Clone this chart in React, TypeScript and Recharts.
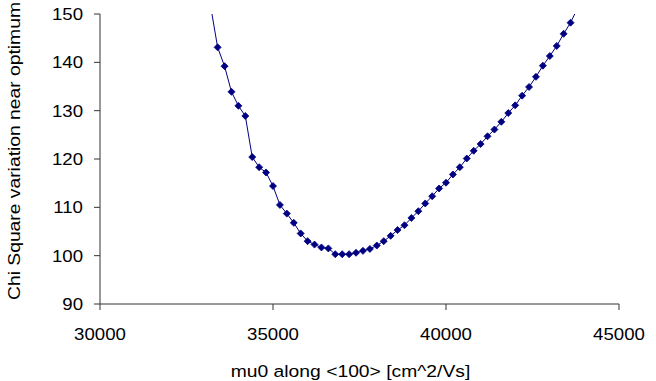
import React from "react";
import { Label, Line, LineChart, XAxis, YAxis } from "recharts";

// mu0 along <100>, step 200 (first and last points lie just above the axis max)
const MU0 = [
  33200, 33400, 33600, 33800, 34000, 34200, 34400, 34600, 34800, 35000, 35200, 35400, 35600, 35800,
  36000, 36200, 36400, 36600, 36800, 37000, 37200, 37400, 37600, 37800, 38000, 38200, 38400, 38600,
  38800, 39000, 39200, 39400, 39600, 39800, 40000, 40200, 40400, 40600, 40800, 41000, 41200, 41400,
  41600, 41800, 42000, 42200, 42400, 42600, 42800, 43000, 43200, 43400, 43600, 43800,
];

const CHI_SQUARE = [
  151.5, 143.1, 139.2, 133.9, 131.0, 128.9, 120.4, 118.3, 117.2, 114.4, 110.5, 108.7, 106.8, 104.6,
  103.0, 102.3, 101.7, 101.5, 100.3, 100.3, 100.3, 100.6, 101.0, 101.4, 102.1, 103.0, 104.1, 105.3,
  106.3, 107.8, 109.2, 110.8, 112.3, 113.9, 115.1, 116.8, 118.3, 120.1, 121.7, 123.1, 124.7, 126.1,
  127.7, 129.5, 131.1, 133.1, 134.9, 137.0, 139.3, 141.3, 143.4, 145.9, 148.2, 151.2,
];

const X_TICKS = [30000, 35000, 40000, 45000];
const Y_TICKS = [90, 100, 110, 120, 130, 140, 150];

const X_TITLE = "mu0 along <100> [cm^2/Vs]";
const Y_TITLE = "Chi Square variation near optimum";

const NAVY = "#000080";
const AXIS = "#333333";
const FONT = '"Liberation Sans", Arial, sans-serif';
const FONT_SIZE = 16.5;
// the original text is a bit wider than plain Arial
const STRETCH = 1.13;
const TITLE_STRETCH = 1.17;

const data = MU0.map((mu, i) => ({ mu, chi: CHI_SQUARE[i] }));

function Diamond(props: any) {
  const { cx, cy, payload } = props;
  if (cx == null || cy == null || payload.chi > 150) return null;
  const r = 3.5;
  return (
    <polygon
      key={`d-${payload.mu}`}
      points={`${cx},${cy - r} ${cx + r},${cy} ${cx},${cy + r} ${cx - r},${cy}`}
      fill={NAVY}
      stroke={NAVY}
      strokeWidth={0.8}
    />
  );
}

function StretchedText({ x, y, anchor, dy, rotate = 0, stretch = STRETCH, children }: any) {
  return (
    <g transform={`translate(${x},${y}) rotate(${rotate}) scale(${stretch},1)`}>
      <text x={0} y={0} dy={dy} textAnchor={anchor} fontSize={FONT_SIZE} fontFamily={FONT} fill="#000">
        {children}
      </text>
    </g>
  );
}

function XTick(props: any) {
  const { x, y, payload } = props;
  return (
    <StretchedText x={x} y={y} anchor="middle" dy="0.71em">
      {payload.value}
    </StretchedText>
  );
}

function YTick(props: any) {
  const { x, y, payload } = props;
  return (
    <StretchedText x={x} y={y} anchor="end" dy="0.36em">
      {payload.value}
    </StretchedText>
  );
}

export default function App() {
  return (
    <div style={{ position: "absolute", left: 0, top: 0, width: 656, height: 381, background: "#fff" }}>
      <LineChart width={656} height={381} data={data} margin={{ top: 14, right: 37, bottom: 27, left: 0 }}>
        <XAxis
          dataKey="mu"
          type="number"
          domain={[30000, 45000]}
          ticks={X_TICKS}
          allowDataOverflow
          height={50}
          tickSize={6}
          tickMargin={18}
          stroke={AXIS}
          tick={XTick}
        >
          <Label
            content={({ viewBox }: any) => (
              <StretchedText
                x={viewBox.x + viewBox.width / 2 - 9}
                y={viewBox.y + viewBox.height + 23}
                anchor="middle"
                stretch={TITLE_STRETCH}
              >
                {X_TITLE}
              </StretchedText>
            )}
          />
        </XAxis>
        <YAxis
          type="number"
          domain={[90, 150]}
          ticks={Y_TICKS}
          allowDataOverflow
          width={100}
          tickSize={6}
          tickMargin={11}
          stroke={AXIS}
          tick={YTick}
        >
          <Label
            content={({ viewBox }: any) => (
              <StretchedText
                x={20}
                y={viewBox.y + viewBox.height - 4}
                anchor="start"
                rotate={-90}
                stretch={TITLE_STRETCH}
              >
                {Y_TITLE}
              </StretchedText>
            )}
          />
        </YAxis>
        <Line
          type="linear"
          dataKey="chi"
          stroke={NAVY}
          strokeWidth={1}
          dot={Diamond}
          activeDot={false}
          isAnimationActive={false}
        />
      </LineChart>
    </div>
  );
}
